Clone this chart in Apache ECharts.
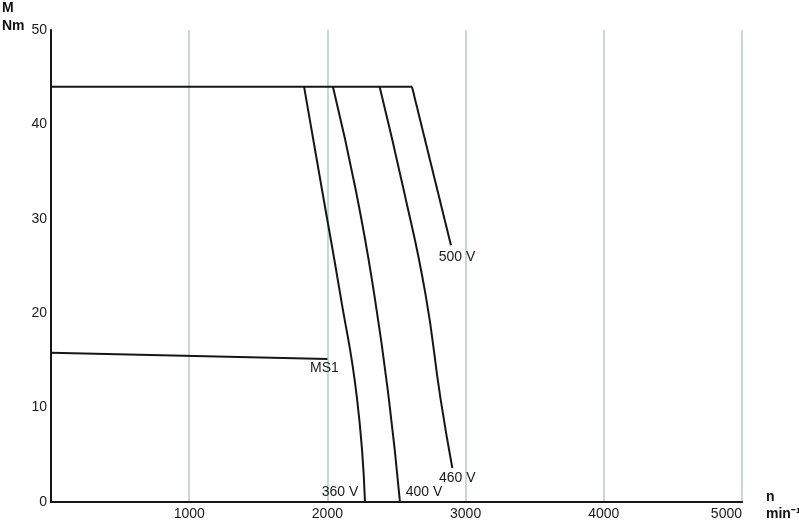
<!DOCTYPE html>
<html>
<head>
<meta charset="utf-8">
<script src="https://cdn.jsdelivr.net/npm/echarts@6/dist/echarts.min.js"></script>
<style>
  html, body { margin: 0; padding: 0; background: #fff; }
  #chart { width: 799px; height: 524px; }
</style>
</head>
<body>
<div id="chart"></div>
<script>
  // torque / speed curves, n in min^-1, M in Nm
  const limitRpm = [0, 2612]
  const limitNm = [44, 44]
  const v500Rpm = [2612, 2894]
  const v500Nm = [44, 27.2]
  const v460Rpm = [2378, 2553, 2710, 2818, 2904]
  const v460Nm = [44, 33, 22, 11, 3.6]
  const v400Rpm = [2040, 2206, 2339, 2444, 2525]
  const v400Nm = [44, 33, 22, 11, 0]
  const v360Rpm = [1831, 1962, 2093, 2214, 2272]
  const v360Nm = [44, 33, 22, 11, 0]
  const ms1Rpm = [0, 2000]
  const ms1Nm = [15.8, 15.15]

  const xTicks = [0, 1000, 2000, 3000, 4000, 5000]
  const yTicks = [0, 10, 20, 30, 40, 50]

  const textFont = 'Liberation Sans, Arial, sans-serif'
  const lineColor = '#161616'

  function pairs(xs, ys) {
    return xs.map((x, i) => [x, ys[i]])
  }

  function curve(name, xs, ys, label, offset) {
    const s = {
      name: name,
      type: 'line',
      data: pairs(xs, ys),
      smooth: 0.5,
      showSymbol: false,
      symbol: 'none',
      silent: true,
      lineStyle: {color: lineColor, width: 2},
      animation: false
    }
    if (label) {
      s.markPoint = {
        symbol: 'circle',
        symbolSize: 0,
        silent: true,
        data: [{
          coord: [xs[xs.length - 1], ys[ys.length - 1]],
          label: {
            show: true,
            formatter: label,
            offset: offset,
            color: '#1a1a1a',
            fontSize: 14,
            fontFamily: textFont
          }
        }]
      }
    }
    return s
  }

  const chart = echarts.init(document.getElementById('chart'))

  chart.setOption({
    animation: false,
    grid: {left: 51, right: 57, top: 30, bottom: 22, containLabel: false},
    xAxis: {
      type: 'value',
      min: xTicks[0],
      max: xTicks[xTicks.length - 1],
      interval: 1000,
      axisLine: {show: true, onZero: false, lineStyle: {color: lineColor, width: 2}},
      axisTick: {show: false},
      splitLine: {show: true, lineStyle: {color: '#c9d6d2', width: 2}},
      axisLabel: {
        showMinLabel: false,
        alignMaxLabel: 'right',
        margin: 5,
        formatter: v => String(v),
        color: '#1a1a1a',
        fontSize: 14,
        fontFamily: textFont
      }
    },
    yAxis: {
      type: 'value',
      min: yTicks[0],
      max: yTicks[yTicks.length - 1],
      interval: 10,
      axisLine: {show: true, onZero: false, lineStyle: {color: lineColor, width: 2}},
      axisTick: {show: false},
      splitLine: {show: false},
      axisLabel: {
        margin: 4,
        color: '#1a1a1a',
        fontSize: 14,
        fontFamily: textFont
      }
    },
    graphic: [
      {type: 'text', left: 2, top: 1, style: {text: 'M', font: 'bold 14px ' + textFont, fill: '#111'}},
      {type: 'text', left: 2, top: 19, style: {text: 'Nm', font: 'bold 14px ' + textFont, fill: '#111'}},
      {type: 'text', left: 766, top: 490, style: {text: 'n', font: 'bold 14px ' + textFont, fill: '#111'}},
      {type: 'text', left: 766, top: 507, style: {text: 'min⁻¹', font: 'bold 14px ' + textFont, fill: '#111'}}
    ],
    series: [
      curve('limit', limitRpm, limitNm),
      curve('500 V', v500Rpm, v500Nm, '500 V', [6, 12]),
      curve('460 V', v460Rpm, v460Nm, '460 V', [5, 10]),
      curve('400 V', v400Rpm, v400Nm, '400 V', [24, -10]),
      curve('360 V', v360Rpm, v360Nm, '360 V', [-25, -10]),
      curve('MS1', ms1Rpm, ms1Nm, 'MS1', [-3, 9])
    ]
  })
</script>
</body>
</html>
